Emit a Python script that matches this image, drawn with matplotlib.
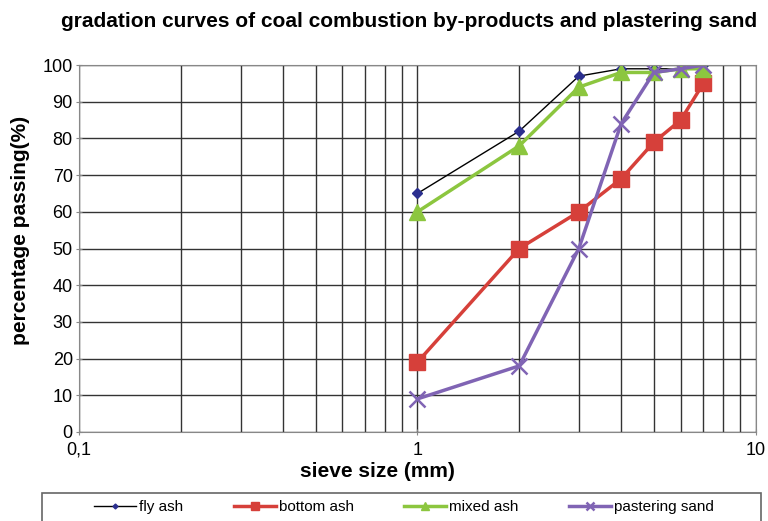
import numpy as np
import matplotlib
matplotlib.use("Agg")
from matplotlib import pyplot as plt
from matplotlib.patches import Rectangle
from matplotlib.ticker import FixedLocator, FixedFormatter, NullFormatter

plt.rcParams['font.family'] = ['Liberation Sans', 'DejaVu Sans']

sieve = [1, 2, 3, 4, 5, 6, 7]
fly_ash = [65, 82, 97, 99, 99, 99, 100]
bottom_ash = [19, 50, 60, 69, 79, 85, 95]
mixed_ash = [60, 78, 94, 98, 98, 99, 99]
sand = [9, 18, 50, 84, 98, 99, 100]

fig = plt.figure(figsize=(7.68, 5.21), dpi=100)
ax = fig.add_axes([0.103, 0.171, 0.881, 0.704])

ax.plot(sieve, fly_ash, color='black', lw=1, marker='D', ms=5,
        mfc='#2b2f8f', mec='#2b2f8f', label='fly ash')
ax.plot(sieve, bottom_ash, color='#d6403a', lw=2.5, marker='s', ms=12,
        mfc='#d6403a', mec='#d6403a', label='bottom ash')
ax.plot(sieve, mixed_ash, color='#8cc63f', lw=2.5, marker='^', ms=12,
        mfc='#8cc63f', mec='#8cc63f', label='mixed ash')
ax.plot(sieve, sand, color='#8064b4', lw=2.5, marker='x', ms=12, mew=1.8,
        label='pastering sand')

ax.set_xscale('log')
ax.set_xlim(0.1, 10)
ax.set_ylim(0, 100)
ax.set_yticks(np.arange(0, 101, 10))
ax.xaxis.set_major_locator(FixedLocator([0.1, 1, 10]))
ax.xaxis.set_major_formatter(FixedFormatter(['0,1', '1', '10']))
ax.xaxis.set_minor_formatter(NullFormatter())
ax.grid(True, which='both', axis='x', color='#333333', lw=1)
ax.grid(True, which='major', axis='y', color='#333333', lw=1)
ax.set_axisbelow(True)
for s in ax.spines.values():
    s.set_color('#888888')
ax.tick_params(labelsize=13, length=5, color='#888888', direction='inout', pad=2)
ax.tick_params(axis='x', pad=4.5)
ax.tick_params(which='minor', length=0)

fig.text(377 / 768, 0.095, 'sieve size (mm)', fontsize=15, fontweight='bold',
         ha='center', va='center')
fig.text(0.027, 0.557, 'percentage passing(%)', fontsize=15, fontweight='bold',
         ha='center', va='center', rotation=90)
fig.text(0.533, 0.958, 'gradation curves of coal combustion by-products and plastering sand',
         fontsize=15, fontweight='bold', ha='center', va='center')

# legend box, cut by the bottom edge
fig.patches.append(Rectangle((42 / 768, -0.05), (761 - 42) / 768, 0.05 + 1 - 493 / 521,
                             transform=fig.transFigure, fill=False,
                             edgecolor='#666666', lw=1.2))
fig.legend(loc='center', bbox_to_anchor=(404 / 768, 0.027), ncol=4, fontsize=11,
           frameon=False, handlelength=2.75, handletextpad=0.2, columnspacing=3.3,
           markerscale=0.5, borderaxespad=0)

plt.savefig('out.png', dpi=100)
